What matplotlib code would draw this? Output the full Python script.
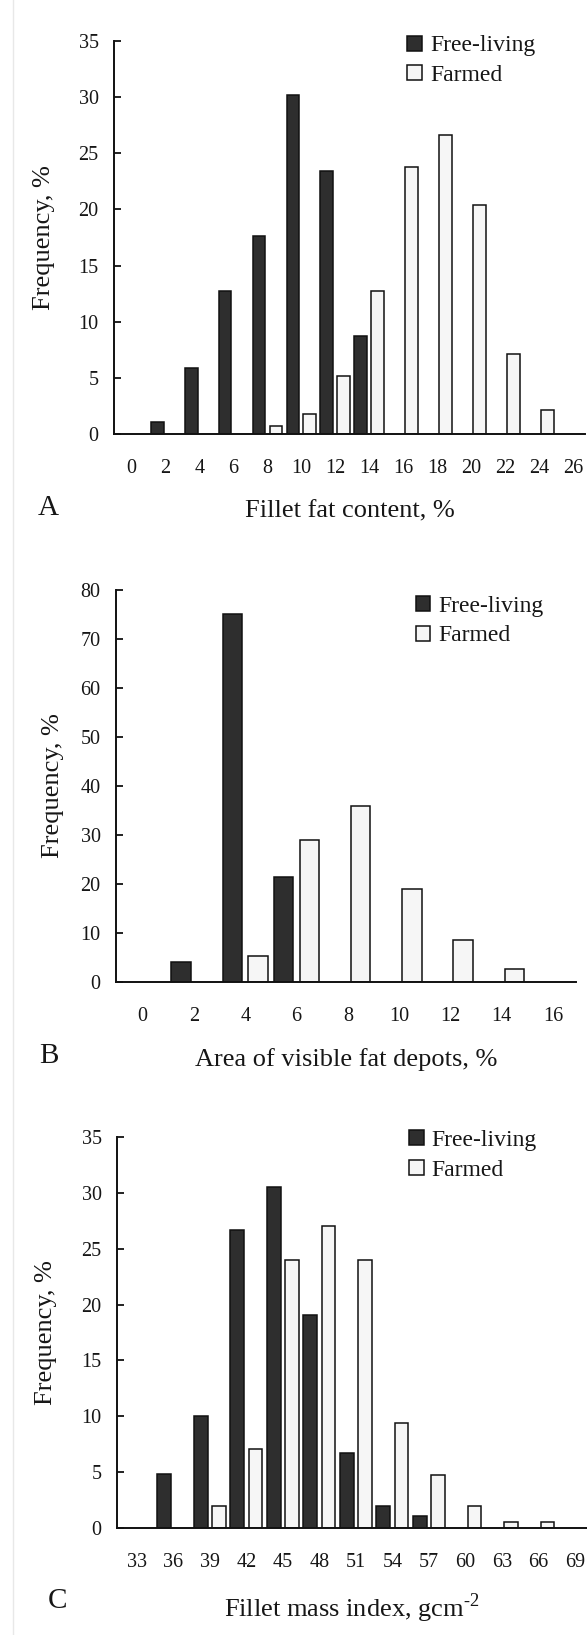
import matplotlib
matplotlib.use("Agg")
import numpy as np
import matplotlib.pyplot as plt
from matplotlib.patches import Patch
from matplotlib.lines import Line2D

plt.rcParams['font.family'] = ['Liberation Serif', 'DejaVu Serif']
plt.rcParams['mathtext.fontset'] = 'custom'
plt.rcParams['mathtext.rm'] = 'Liberation Serif'

# --- data (frequency, %) ---
fat_bins = [2, 4, 6, 8, 10, 12, 14, 16, 18, 20, 22, 24]
fat_free = [1.1, 5.9, 12.7, 17.6, 30.2, 23.4, 8.7, 0, 0, 0, 0, 0]
fat_farmed = [0, 0, 0, 0.7, 1.8, 5.2, 12.7, 23.8, 26.6, 20.4, 7.1, 2.1]
fat_ticks = [0, 2, 4, 6, 8, 10, 12, 14, 16, 18, 20, 22, 24, 26]

depot_bins = [2, 4, 6, 8, 10, 12, 14]
depot_free = [4.0, 75.0, 21.5, 0, 0, 0, 0]
depot_farmed = [0, 5.4, 29.0, 36.0, 18.9, 8.5, 2.7]
depot_ticks = [0, 2, 4, 6, 8, 10, 12, 14, 16]

mass_bins = [36, 39, 42, 45, 48, 51, 54, 57, 60, 63, 66]
mass_free = [4.85, 10.0, 26.7, 30.5, 19.1, 6.75, 2.0, 1.1, 0, 0, 0]
mass_farmed = [0, 2.0, 7.05, 24.0, 27.0, 24.0, 9.44, 4.75, 2.0, 0.5, 0.5]
mass_ticks = [33, 36, 39, 42, 45, 48, 51, 54, 57, 60, 63, 66, 69]

series_names = ["Free-living", "Farmed"]

W, H = 587, 1635
DARK = "#2e2e2e"
LIGHT = "#f6f6f6"
EDGE = "#111111"
TXT = "#161616"

fig = plt.figure(figsize=(W / 100, H / 100), dpi=100)


def add_ax(left, top, right, bottom):
    return fig.add_axes([left / W, 1 - bottom / H, (right - left) / W, (bottom - top) / H])


def panel(ax, bins, free, farmed, step, xticks, ymax, ystep, xlim, xlabel,
          xlab_y, ylab_x, leg_xy):
    bins = np.asarray(bins, float)
    free = np.asarray(free)
    farmed = np.asarray(farmed)
    off = step * 0.25
    w = step * 0.38
    ax.bar(bins[free > 0] - off, free[free > 0], w, color=DARK,
           edgecolor=EDGE, linewidth=1.1)
    ax.bar(bins[farmed > 0] + off, farmed[farmed > 0], w, color=LIGHT,
           edgecolor=EDGE, linewidth=1.1)

    ax.set_xlim(*xlim)
    ax.set_ylim(0, ymax)
    ax.set_xticks(xticks)
    ax.set_yticks(np.arange(0, ymax + 1, ystep))
    for s in ["top", "right"]:
        ax.spines[s].set_visible(False)
    for s in ["left", "bottom"]:
        ax.spines[s].set_linewidth(1.4)
        ax.spines[s].set_color(EDGE)
    ax.tick_params(axis="y", direction="in", length=5, width=1.3, pad=11,
                   labelsize=14.5, labelcolor=TXT, color=EDGE)
    ax.tick_params(axis="x", length=0, pad=18, labelsize=14.5, labelcolor=TXT)

    ax.set_xlabel(xlabel, fontsize=19, color=TXT, va="baseline")
    ax.xaxis.set_label_coords(0.5, xlab_y)
    ax.set_ylabel("Frequency, %", fontsize=19, color=TXT, va="baseline")
    ax.yaxis.set_label_coords(ylab_x, 0.5)

    handles = [Patch(facecolor=DARK, edgecolor=EDGE, linewidth=1.1),
               Patch(facecolor=LIGHT, edgecolor=EDGE, linewidth=1.1)]
    ax.legend(handles, series_names, loc="upper left", bbox_to_anchor=leg_xy,
              frameon=False, fontsize=17, handlelength=0.6, handleheight=0.6,
              handletextpad=0.35, labelspacing=0.36, borderpad=0,
              borderaxespad=0, labelcolor=TXT)


axA = add_ax(114, 41, 585, 434)
panel(axA, fat_bins, fat_free, fat_farmed, 2, fat_ticks, 35, 5, (-1.04, 26.7),
      "Fillet fat content, %", (434 - 517) / 393, (50 - 114) / 471,
      (0.623, 1.014))

axB = add_ax(116, 590, 576, 982)
panel(axB, depot_bins, depot_free, depot_farmed, 2, depot_ticks, 80, 10,
      (-1.04, 16.9), "Area of visible fat depots, %", (982 - 1066) / 392,
      (59 - 116) / 460, (0.652, 0.985))

axC = add_ax(117, 1137, 587, 1528)
panel(axC, mass_bins, mass_free, mass_farmed, 3, mass_ticks, 35, 5,
      (31.36, 70.0), "Fillet mass index, gcm$^{\\text{-2}}$",
      (1528 - 1617) / 391, (52 - 117) / 470, (0.622, 1.0175))

for letter, x, y in [("A", 48, 515), ("B", 49, 1063), ("C", 57, 1608)]:
    fig.text(x / W, 1 - y / H, letter, fontsize=21, color=TXT,
             ha="center", va="baseline")

# faint scan border on the left
fig.add_artist(Line2D([13 / W, 13 / W], [0, 1], color="#e8e8e8", linewidth=1))

fig.savefig("out.png", dpi=100)
